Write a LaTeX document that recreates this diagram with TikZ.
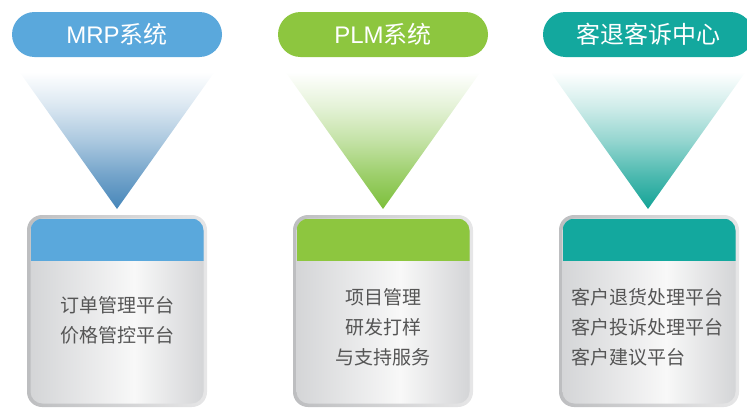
\documentclass[tikz,border=0pt]{standalone}
\usepackage{fontspec}
\newfontfamily\cjk{Noto Sans CJK SC}
\newfontfamily\lat{Liberation Sans}
\usetikzlibrary{shapes.misc}
\definecolor{cA}{HTML}{5AA8DC}
\definecolor{cAt}{HTML}{4686B9}
\definecolor{cB}{HTML}{8DC63F}
\definecolor{cBt}{HTML}{7CBF3A}
\definecolor{cC}{HTML}{13A89E}
\definecolor{cCt}{HTML}{13A396}
\definecolor{gEdge}{HTML}{D4D5D7}
\definecolor{gMid}{HTML}{F8F8F8}
\definecolor{gFrameA}{HTML}{BDBEC0}
\definecolor{gFrameB}{HTML}{E6E6E7}
\definecolor{txt}{HTML}{555555}
\pgfdeclarehorizontalshading{boxshade}{100bp}{color(0bp)=(gEdge); color(25bp)=(gEdge); color(55bp)=(gMid); color(75bp)=(gEdge); color(100bp)=(gEdge)}
\pgfdeclareverticalshading{triA}{100bp}{color(0bp)=(cAt); color(25bp)=(cAt); color(37.5bp)=(cAt!75!white); color(50bp)=(cAt!45!white); color(62.5bp)=(cAt!20!white); color(75bp)=(white); color(100bp)=(white)}
\pgfdeclareverticalshading{triB}{100bp}{color(0bp)=(cBt); color(25bp)=(cBt); color(37.5bp)=(cBt!75!white); color(50bp)=(cBt!45!white); color(62.5bp)=(cBt!20!white); color(75bp)=(white); color(100bp)=(white)}
\pgfdeclareverticalshading{triC}{100bp}{color(0bp)=(cCt); color(25bp)=(cCt); color(37.5bp)=(cCt!75!white); color(50bp)=(cCt!45!white); color(62.5bp)=(cCt!20!white); color(75bp)=(white); color(100bp)=(white)}
\tikzset{
  pill/.style={rounded rectangle, minimum width=210pt, minimum height=45pt, inner sep=0pt,
    text=white, font=\cjk\fontsize{24}{28}\selectfont},
  boxtext/.style={text=txt, font=\cjk\fontsize{19}{30}\selectfont, inner sep=0pt},
}
\newcommand{\columnbox}[3]{% #1 left x, #2 band colour, #3 name
  \shade[left color=gFrameA, right color=gFrameB, rounded corners=15pt] (#1,215) rectangle ++(180,192);
  \shade[shading=boxshade, rounded corners=12pt] (#1+3.5,218.5) rectangle ++(173,185);
  \begin{scope}
    \clip[rounded corners=12pt] (#1+3.5,218.5) rectangle ++(173,185);
    \fill[#2] (#1+3.5,218.5) rectangle ++(173,42.5);
  \end{scope}
  \coordinate (#3) at (#1+90,311);
}
\begin{document}
\begin{tikzpicture}[x=1pt,y=-1pt]
\useasboundingbox (0,0) rectangle (747,407);
% pills
\node[pill, fill=cA] (p1) at (117,34.5) {{\lat MRP}系统};
\node[pill, fill=cB] (p2) at (383,34.5) {{\lat PLM}系统};
\node[pill, fill=cC] (p3) at (648,34.5) {客退客诉中心};
% triangles
\shade[shading=triA] (19.5,72) -- (214.5,72) -- (117,209) -- cycle;
\shade[shading=triB] (285.5,72) -- (480.5,72) -- (383,209) -- cycle;
\shade[shading=triC] (550.5,72) -- (745.5,72) -- (648,209) -- cycle;
% boxes
\columnbox{27}{cA}{b1}
\columnbox{293}{cB}{b2}
\columnbox{559}{cC}{b3}
% texts
\node[boxtext, align=center] (t1) at (117,320) {订单管理平台\\价格管控平台};
\node[boxtext, align=center] (t2) at (383,327) {项目管理\\研发打样\\与支持服务};
\node[boxtext, align=left, anchor=west] (t3) at (571,327) {客户退货处理平台\\客户投诉处理平台\\客户建议平台};
\end{tikzpicture}
\end{document}
